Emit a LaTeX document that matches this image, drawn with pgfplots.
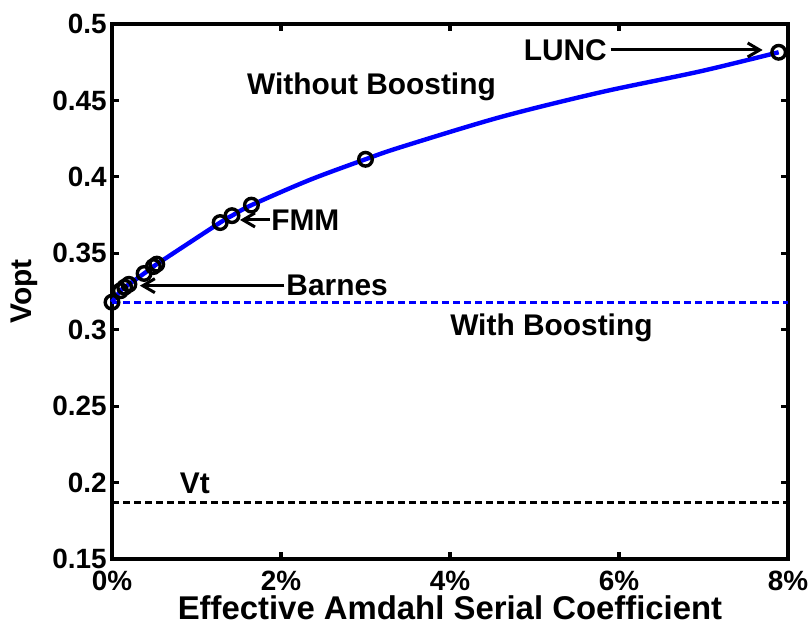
\documentclass[border=0pt]{standalone}
\usepackage{pgfplots}
\pgfplotsset{compat=1.18}
\usepackage{fontspec}
\setmainfont{Liberation Sans}
\usetikzlibrary{arrows.meta}

\tikzset{ann/.style={font=\fontsize{15}{18}\selectfont\bfseries, inner sep=0pt},
         pointer/.style={line width=1.5bp, -{Straight Barb[length=6bp,width=7bp]}}}

\begin{document}
\begin{tikzpicture}
\path[use as bounding box] (-56bp,-34bp) rectangle (350bp,279.5bp);
\begin{axis}[
  at={(0,0)}, anchor=south west,
  width=338bp, height=267.5bp, scale only axis,
  xmin=0, xmax=8, ymin=0.15, ymax=0.5,
  xtick={0,2,4,6,8}, xticklabels={0\%,2\%,4\%,6\%,8\%},
  ytick={0.15,0.2,0.25,0.3,0.35,0.4,0.45,0.5},
  yticklabels={0.15,0.2,0.25,0.3,0.35,0.4,0.45,0.5},
  tick align=inside, major tick length=3.5bp,
  axis line style={line width=1.6bp},
  tick style={line width=1.6bp, black},
  ticklabel style={font=\fontsize{14}{16}\selectfont\bfseries},
  xticklabel style={inner sep=0bp, yshift=-6bp},
  yticklabel style={inner sep=2.5bp},
  xlabel={Effective Amdahl Serial Coefficient},
  ylabel={Vopt},
  xlabel style={font=\fontsize{16.5}{19}\selectfont\bfseries,
                at={(axis description cs:0.5,-0.092)}, anchor=center},
  ylabel style={font=\fontsize{15}{18}\selectfont\bfseries,
                at={(axis description cs:-0.129,0.5)}, anchor=center},
  clip=false,
]
% reference levels
\addplot[blue, line width=1.5bp, dash pattern=on 3.5bp off 2bp]
  coordinates {(0,0.318) (8,0.318)};
\addplot[black, line width=1.5bp, dash pattern=on 3.5bp off 2bp]
  coordinates {(0,0.187) (8,0.187)};
% Vopt without boosting
\addplot[blue, line width=2.2bp, smooth] coordinates {
  (0,0.318) (0.1,0.3255) (0.15,0.3278) (0.2,0.3297) (0.38,0.3368)
  (0.49,0.3413) (0.53,0.3429) (1.28,0.3701) (1.42,0.3746) (1.65,0.3815)
  (2.34,0.3980) (3.0,0.4115) (3.41,0.4193) (4.59,0.4390) (5.78,0.4553)
  (6.96,0.4690) (7.89,0.4815)};
% benchmark operating points
\addplot[only marks, black, mark=o, mark size=3.4bp, line width=1.7bp] coordinates {
  (0,0.318) (0.1,0.3255) (0.15,0.3278) (0.2,0.3297) (0.38,0.3368)
  (0.49,0.3413) (0.53,0.3429) (1.28,0.3701) (1.42,0.3746) (1.65,0.3815)
  (3.0,0.4115) (7.89,0.4815)};

\node[ann, anchor=east] at (axis cs:5.86,0.483) {LUNC};
\draw[pointer] (axis cs:5.9,0.483) -- (axis cs:7.70,0.483);
\node[ann] at (axis cs:3.07,0.459) {Without Boosting};
\node[ann, anchor=west] at (axis cs:1.88,0.3718) {FMM};
\draw[pointer] (axis cs:1.87,0.3718) -- (axis cs:1.515,0.3718);
\node[ann, anchor=west] at (axis cs:2.06,0.3288) {Barnes};
\draw[pointer] (axis cs:2.04,0.3288) -- (axis cs:0.33,0.3288);
\node[ann] at (axis cs:5.2,0.301) {With Boosting};
\node[ann] at (axis cs:0.98,0.1997) {Vt};
\end{axis}
\end{tikzpicture}
\end{document}
